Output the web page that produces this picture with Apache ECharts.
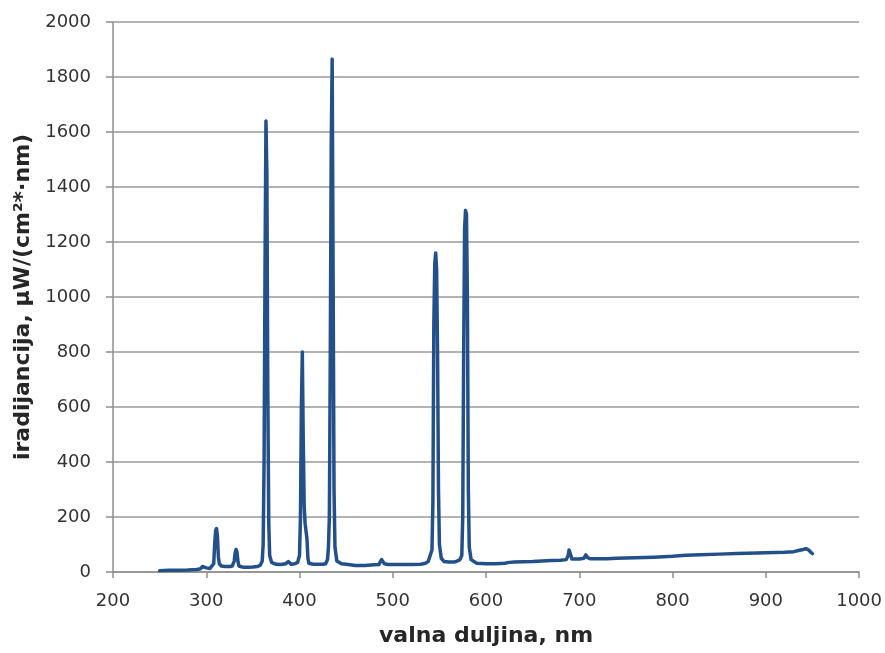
<!DOCTYPE html>
<html>
<head>
<meta charset="utf-8">
<script src="https://cdn.jsdelivr.net/npm/echarts@6/dist/echarts.min.js"></script>
<style>
html,body{margin:0;padding:0;background:#fff;}
#chart{width:885px;height:653px;}
</style>
</head>
<body>
<div id="chart"></div>
<script>
// wavelength, nm
const wavelengths = [
  250,260,270,280,290,294,296,297,298,300,
  302,304,306,308,309,310,311,312,313,314,
  316,320,325,328,330,331,332,333,334,335,
  337,340,345,350,355,358,360,361,362,363,
  364,365,366,367,368,370,375,380,385,387,
  388,389,391,395,398,400,401,402,403,404,
  405,406,407,408,409,410,415,420,425,428,
  430,431,432,433,434,435,436,437,438,440,
  445,450,460,470,480,485,487,488,489,490,
  491,495,500,510,520,530,535,538,540,542,
  543,544,545,546,547,548,549,550,552,555,
  560,565,568,570,572,574,575,576,577,578,
  579,580,581,582,584,590,600,610,620,625,
  630,640,650,660,670,680,686,688,689,690,
  691,692,700,705,707,708,709,712,720,730,
  740,760,780,800,814,830,850,869,880,900,
  920,930,935,940,943,946,948,950
];
// irradiance, µW/(cm²·nm)
const irradiance = [
  5,6,6,7,9,12,20,25,22,15,
  14,13,14,30,100,150,158,130,55,30,
  22,20,20,22,40,70,82,72,38,22,
  18,17,17,18,20,25,40,100,400,1100,
  1640,1450,650,180,60,35,28,27,30,35,
  38,32,28,30,35,60,200,600,800,480,
  240,175,182,120,50,32,28,28,28,30,
  45,90,200,800,1550,1865,1100,300,90,40,
  30,28,24,24,26,27,30,45,52,40,
  30,27,27,27,27,28,32,38,45,80,
  250,900,1120,1160,1100,800,300,100,50,38,
  36,36,38,40,45,60,200,800,1250,1315,
  1300,1000,300,90,45,32,30,30,32,35,
  36,37,38,40,42,43,45,60,80,82,
  60,47,47,50,62,63,52,48,48,48,
  50,52,54,57,61,63,65,67,68,70,
  72,74,78,82,85,80,72,67
];
const xTitle = 'valna duljina, nm';
const yTitle = 'iradijancija, µW/(cm²*·nm)';

const seriesData = wavelengths.map((w, i) => [w, irradiance[i]]);

const axisGray = '#8e8e8e';
const chart = echarts.init(document.getElementById('chart'), null, {renderer: 'canvas'});
chart.setOption({
  animation: false,
  backgroundColor: '#ffffff',
  grid: {left: 113, right: 25, top: 22, bottom: 81, containLabel: false},
  xAxis: {
    type: 'value',
    min: 200, max: 1000, interval: 100,
    name: xTitle,
    nameLocation: 'middle',
    nameGap: 53,
    nameTextStyle: {fontFamily: 'DejaVu Sans', fontWeight: 'bold', fontSize: 22, color: '#262626'},
    axisLine: {show: true, lineStyle: {color: axisGray, width: 1.5}},
    axisTick: {show: true, length: 6, lineStyle: {color: axisGray, width: 1.5}},
    axisLabel: {margin: 20, fontFamily: 'DejaVu Sans', fontSize: 18, color: '#333333', formatter: v => String(v)},
    splitLine: {show: false}
  },
  yAxis: {
    type: 'value',
    min: 0, max: 2000, interval: 200,
    name: yTitle,
    nameLocation: 'middle',
    nameGap: 74,
    nameTextStyle: {fontFamily: 'DejaVu Sans', fontWeight: 'bold', fontSize: 22, color: '#262626'},
    axisLine: {show: true, lineStyle: {color: axisGray, width: 1.5}},
    axisTick: {show: true, inside: false, length: 7, lineStyle: {color: axisGray, width: 1.5}},
    axisLabel: {margin: 22, fontFamily: 'DejaVu Sans', fontSize: 18, color: '#333333', formatter: v => String(v)},
    splitLine: {show: true, lineStyle: {color: '#9a9a9a', width: 1.5}}
  },
  series: [{
    type: 'line',
    data: seriesData,
    showSymbol: false,
    symbol: 'none',
    smooth: false,
    lineStyle: {color: '#24508a', width: 3.5, join: 'round', cap: 'round'},
    z: 3
  }]
});
</script>
</body>
</html>
